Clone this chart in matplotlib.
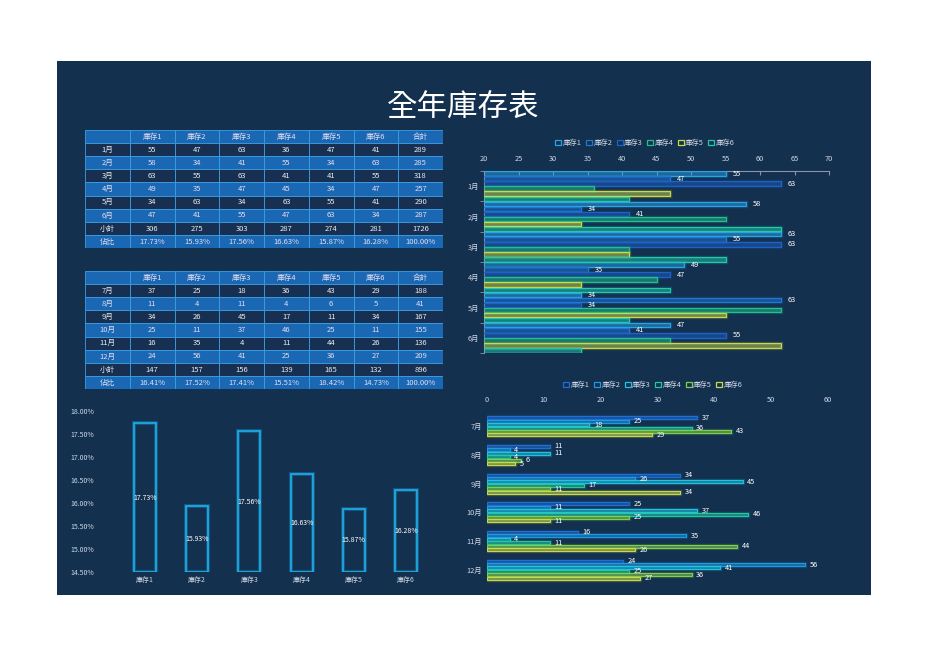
import numpy as np
import matplotlib
matplotlib.use("Agg")
import matplotlib.pyplot as plt
from matplotlib.patches import Rectangle

plt.rcParams['font.family'] = ['Noto Sans CJK TC', 'DejaVu Sans']

# data
series = ['庫存1', '庫存2', '庫存3', '庫存4', '庫存5', '庫存6']
months_h1 = ['1月', '2月', '3月', '4月', '5月', '6月']
months_h2 = ['7月', '8月', '9月', '10月', '11月', '12月']
h1 = [
    [55, 47, 63, 36, 47, 41],
    [58, 34, 41, 55, 34, 63],
    [63, 55, 63, 41, 41, 55],
    [49, 35, 47, 45, 34, 47],
    [34, 63, 34, 63, 55, 41],
    [47, 41, 55, 47, 63, 34],
]
h2 = [
    [37, 25, 18, 36, 43, 29],
    [11, 4, 11, 4, 6, 5],
    [34, 26, 45, 17, 11, 34],
    [25, 11, 37, 46, 25, 11],
    [16, 35, 4, 11, 44, 26],
    [24, 56, 41, 25, 36, 27],
]
share_h1 = [17.73, 15.93, 17.56, 16.63, 15.87, 16.28]

BG = '#13304f'
TXT = '#d0d8e6'
top_colors = ['#29a3e8', '#1f78d6', '#1e62c8', '#22c08e', '#c9d94a', '#22c9ab']
bot_colors = ['#1f6fd4', '#1e9ae2', '#22c3e0', '#22c8a2', '#7fd04a', '#c9d94a']

W, H = 936, 662
fig = plt.figure(figsize=(W / 100, H / 100), dpi=100)
fig.patch.set_facecolor('white')


def fx(px):
    return px / W


def fy(py):
    return 1 - py / H


# dark panel
fig.patches.append(Rectangle((fx(57), fy(595)), fx(814), 534 / H, transform=fig.transFigure,
                             facecolor=BG, edgecolor='none', zorder=-5))
fig.text(fx(463), fy(107), '全年庫存表', color='white', fontsize=22, ha='center', va='center')


def draw_table(top_px, months, rows):
    ax = fig.add_axes([fx(85), fy(top_px + 118), fx(358), 118 / H])
    ax.set_xlim(0, 8)
    ax.set_ylim(9, 0)
    ax.axis('off')
    arr = np.array(rows)
    col_tot = arr.sum(axis=0)
    grand = col_tot.sum()
    table = [[''] + series + ['合計']]
    for m, r in zip(months, rows):
        table.append([m] + [str(v) for v in r] + [str(sum(r))])
    table.append(['小計'] + [str(v) for v in col_tot] + [str(grand)])
    table.append(['佔比'] + ['%.2f%%' % (v / grand * 100) for v in col_tot] + ['100.00%'])
    for i, row in enumerate(table):
        fc = '#1a68b4' if i % 2 == 0 else '#172f50'
        for j, val in enumerate(row):
            ax.add_patch(Rectangle((j, i), 1, 1, facecolor=fc, edgecolor='#3d9fe2', linewidth=0.6))
            ax.text(j + 0.5, i + 0.52, val, ha='center', va='center', fontsize=5.5,
                    color='#e4dcf0' if i % 2 == 0 else '#e8ecf2')


draw_table(130, months_h1, h1)
draw_table(271, months_h2, h2)


def style_text(ax):
    ax.set_facecolor('none')
    ax.tick_params(colors=TXT, labelsize=5.3, length=0)
    for s in ax.spines.values():
        s.set_visible(False)


def legend_handles(colors):
    return [Rectangle((0, 0), 1, 1, facecolor=BG, edgecolor=c, linewidth=0.9) for c in colors]


# top right chart
ax1 = fig.add_axes([fx(484), fy(353), fx(345), 182 / H])
style_text(ax1)
n = len(series)
bh = 1 / n
y0 = np.arange(len(months_h1))
for k in range(n):
    vals = [r[k] for r in h1]
    ys = y0 - 0.5 + bh * (k + 0.5)
    ax1.barh(ys, vals, height=bh * 0.9, color=top_colors[k], alpha=0.2, linewidth=2.5,
             edgecolor=top_colors[k], zorder=2)
    ax1.barh(ys, vals, height=bh * 0.9, facecolor=top_colors[k] + '55', edgecolor=top_colors[k],
             linewidth=0.8, zorder=3)
    if k < 3:
        for yy, v in zip(ys, vals):
            ax1.text(v + 1, yy, str(v), color='white', fontsize=5.3, va='center', zorder=4)
ax1.set_xlim(20, 70)
ax1.set_ylim(len(months_h1) - 0.5, -0.5)
ax1.set_yticks(y0)
ax1.set_yticklabels(months_h1)
ax1.set_yticks(np.arange(len(months_h1) + 1) - 0.5, minor=True)
ax1.tick_params(axis='y', which='minor', length=3, color='#8a96a8', direction='out')
ax1.xaxis.tick_top()
ax1.set_xticks(np.arange(20, 71, 5))
ax1.tick_params(axis='x', length=3, color='#8a96a8', direction='in', pad=6)
ax1.spines['top'].set_visible(True)
ax1.spines['left'].set_visible(True)
ax1.spines['top'].set_color('#8a96a8')
ax1.spines['left'].set_color('#8a96a8')
fig.legend(legend_handles(top_colors), series, loc='center', bbox_to_anchor=(fx(645), fy(143)),
           ncol=6, frameon=False, fontsize=5.3, labelcolor=TXT, handlelength=0.8, handleheight=0.8,
           handletextpad=0.2, columnspacing=0.6)

# bottom right chart
ax2 = fig.add_axes([fx(487), fy(584), fx(341), 172 / H])
style_text(ax2)
bh2 = 0.72 / n
for k in range(n):
    vals = [r[k] for r in h2]
    ys = y0 - 0.36 + bh2 * (k + 0.5)
    ax2.barh(ys, vals, height=bh2 * 0.9, color=bot_colors[k], alpha=0.2, linewidth=2.5,
             edgecolor=bot_colors[k], zorder=2)
    ax2.barh(ys, vals, height=bh2 * 0.9, facecolor=bot_colors[k] + '55', edgecolor=bot_colors[k],
             linewidth=0.8, zorder=3)
    for yy, v in zip(ys, vals):
        ax2.text(v + 0.8, yy, str(v), color='white', fontsize=5.3, va='center', zorder=4)
ax2.set_xlim(0, 60)
ax2.set_ylim(len(months_h2) - 0.5, -0.5)
ax2.set_yticks(y0)
ax2.set_yticklabels(months_h2)
ax2.xaxis.tick_top()
ax2.set_xticks(np.arange(0, 61, 10))
ax2.tick_params(axis='x', pad=6)
fig.legend(legend_handles(bot_colors), series, loc='center', bbox_to_anchor=(fx(653), fy(385)),
           ncol=6, frameon=False, fontsize=5.3, labelcolor=TXT, handlelength=0.8, handleheight=0.8,
           handletextpad=0.2, columnspacing=0.6)

# bottom left chart
ax3 = fig.add_axes([fx(119), fy(572), fx(313), 161 / H])
style_text(ax3)
x = np.arange(len(series))
base = 14.5
heights = [v - base for v in share_h1]
ax3.bar(x, heights, bottom=base, width=0.42, facecolor='none', edgecolor='#1aa8e6', linewidth=3,
        alpha=0.3)
ax3.bar(x, heights, bottom=base, width=0.42, facecolor='none', edgecolor='#1eb0ea', linewidth=1.2)
for xi, v in zip(x, share_h1):
    ax3.text(xi, (base + v) / 2, '%.2f%%' % v, ha='center', va='center', color='white', fontsize=5)
ax3.set_ylim(14.5, 18.0)
ax3.set_xlim(-0.5, len(series) - 0.5)
ax3.set_yticks(np.arange(14.5, 18.01, 0.5))
ax3.set_yticklabels(['%.2f%%' % v for v in np.arange(14.5, 18.01, 0.5)])
ax3.set_xticks(x)
ax3.set_xticklabels(series)
ax3.tick_params(axis='y', pad=18, labelsize=5)
ax3.tick_params(axis='x', labelsize=5)

fig.savefig('out.png', dpi=100, facecolor=fig.get_facecolor())
